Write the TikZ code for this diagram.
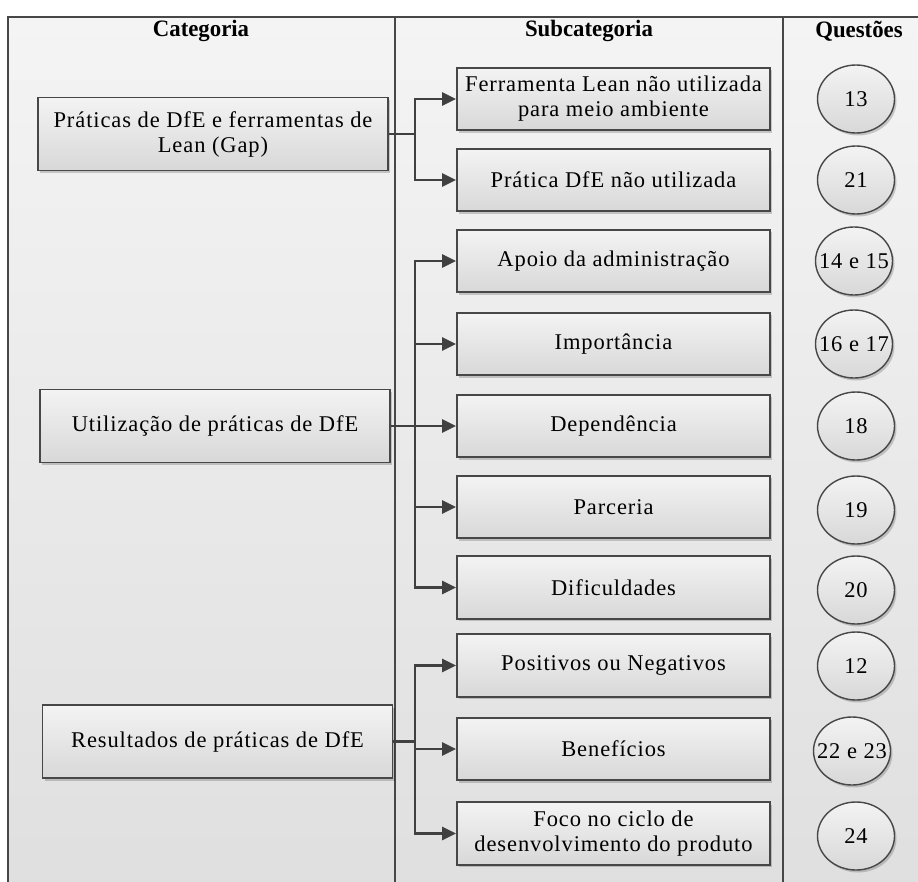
\documentclass[tikz,border=0pt]{standalone}
\usepackage{fontspec}
\setmainfont{Liberation Serif}
\newfontfamily\boxfont{Liberation Serif}[LetterSpace=4]
\usetikzlibrary{shapes.geometric,shadows,arrows.meta}

\definecolor{edge}{HTML}{474747}
\definecolor{wire}{HTML}{404040}
\definecolor{coltop}{HTML}{F4F4F4}
\definecolor{colbot}{HTML}{DFDFDF}
\definecolor{boxtop}{HTML}{F3F3F3}
\definecolor{boxbot}{HTML}{D8D8D8}

\begin{document}
\begin{tikzpicture}[x=1pt,y=-1pt,
  txt/.style={font=\boxfont\fontsize{22.5}{25}\selectfont, align=center, text=black},
  shade/.style={top color=boxtop, bottom color=boxbot,
    drop shadow={shadow xshift=2pt, shadow yshift=-2.5pt, fill=black, opacity=0.18}},
  catbox/.style={txt, shade, draw=edge, line width=1.8pt, inner sep=0pt,
    minimum width=350pt, minimum height=73pt},
  subbox/.style={txt, shade, draw=edge, line width=1.8pt, inner sep=0pt,
    minimum width=313pt, minimum height=62.5pt},
  qnode/.style={txt, shade, ellipse, draw=edge, line width=1.4pt, inner sep=0pt,
    minimum width=77pt, minimum height=68pt},
  head/.style={font=\fontsize{23.5}{26}\selectfont\bfseries, text=black},
  wireline/.style={draw=wire, line width=2.6pt},
  feed/.style={wireline, -{Triangle[length=14pt,width=13pt]}},
  colline/.style={draw=edge, line width=1.5pt}
]
\useasboundingbox (0,0) rectangle (918,881);
\clip (0,0) rectangle (918,881);

% column panels
\fill[top color=coltop, bottom color=colbot] (8,17) rectangle (918,900);
\draw[colline] (8,900) -- (8,17) -- (918,17);
\draw[colline] (395,17) -- (395,900);
\draw[colline] (783,17) -- (783,900);

% column headings
\node[head] (hcat) at (201,31) {\scalebox{0.97}[1]{Categoria}};
\node[head] (hsub) at (589,31) {\scalebox{0.97}[1]{Subcategoria}};
\node[head] (hque) at (859,31) {\scalebox{0.97}[1]{Questões}};

% categories
\node[catbox] (cA) at (213,134) {Práticas de DfE e ferramentas de\\Lean (Gap)};
\node[catbox] (cB) at (215,426) {Utilização de práticas de DfE};
\node[catbox] (cC) at (217.5,741.5) {Resultados de práticas de DfE};

% subcategories
\node[subbox] (s1) at (613.5,99)   {Ferramenta Lean não utilizada\\para meio ambiente};
\node[subbox] (s2) at (613.5,180)  {Prática DfE não utilizada};
\node[subbox] (s3) at (613.5,261)  {Apoio da administração};
\node[subbox] (s4) at (613.5,344)  {Importância};
\node[subbox] (s5) at (613.5,426)  {Dependência};
\node[subbox] (s6) at (613.5,507)  {Parceria};
\node[subbox] (s7) at (613.5,587.5){Dificuldades};
\node[subbox] (s8) at (613.5,665.5){Positivos ou Negativos};
\node[subbox] (s9) at (613.5,749)  {Benefícios};
\node[subbox] (s10) at (613.5,833.5){Foco no ciclo de\\desenvolvimento do produto};

% question numbers
\node[qnode] (q1) at (856,99)    {\makebox[0pt]{13}};
\node[qnode] (q2) at (856,180)   {\makebox[0pt]{21}};
\node[qnode] (q3) at (854,261)   {\makebox[0pt]{14 e 15}};
\node[qnode] (q4) at (854,344)   {\makebox[0pt]{16 e 17}};
\node[qnode] (q5) at (856,426)   {\makebox[0pt]{18}};
\node[qnode] (q6) at (856,510)   {\makebox[0pt]{19}};
\node[qnode] (q7) at (856,590)   {\makebox[0pt]{20}};
\node[qnode] (q8) at (856,666)   {\makebox[0pt]{12}};
\node[qnode] (q9) at (852,751)   {\makebox[0pt]{22 e 23}};
\node[qnode] (q10) at (856,836)  {\makebox[0pt]{24}};

% branch points
\coordinate (t1) at (415,134);
\coordinate (t2) at (415,426);
\coordinate (t3) at (415,741.5);

% connectors
\draw[wireline] (cA.east) -- (t1);
\draw[feed] (t1) |- (s1.west);
\draw[feed] (t1) |- (s2.west);

\draw[wireline] (cB.east) -- (t2);
\foreach \s in {s3,s4,s5,s6,s7} \draw[feed] (t2) |- (\s.west);

\draw[wireline] (cC.east) -- (t3);
\foreach \s in {s8,s9,s10} \draw[feed] (t3) |- (\s.west);
\end{tikzpicture}
\end{document}
